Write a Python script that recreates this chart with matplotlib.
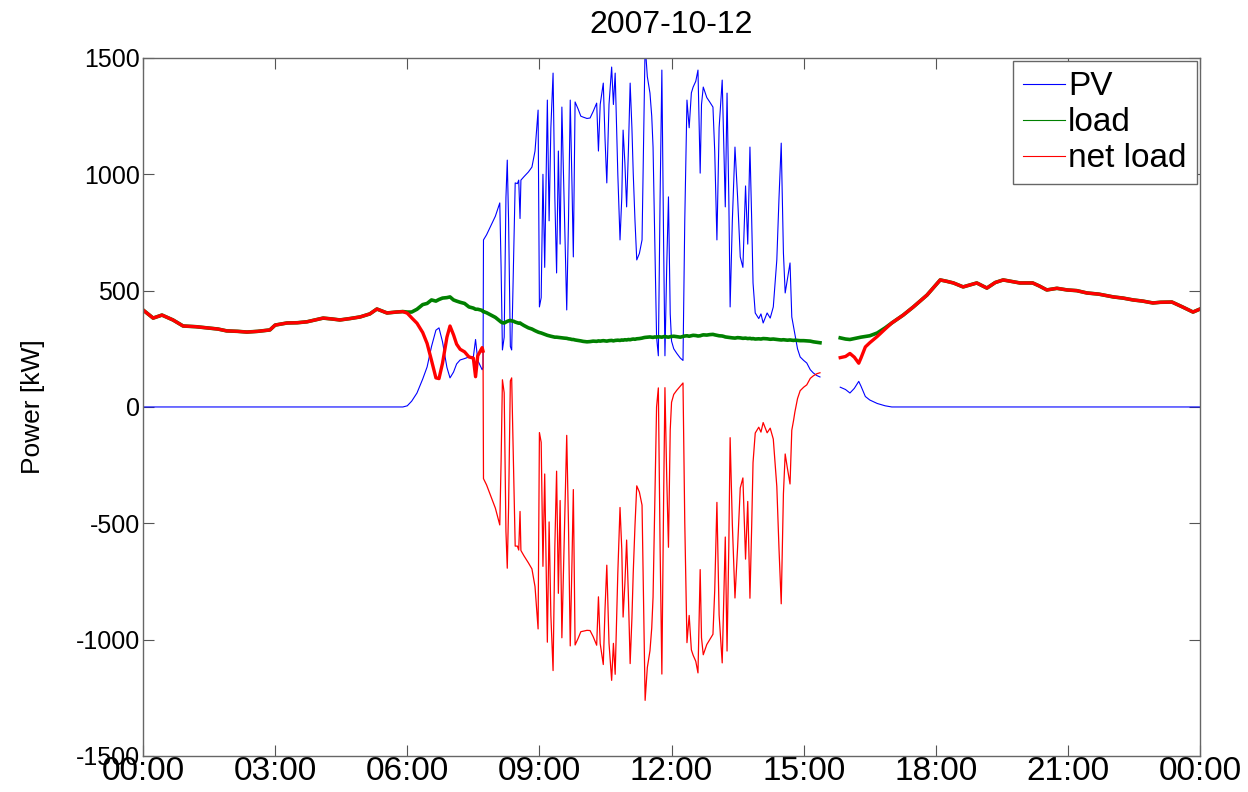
import numpy as np
import matplotlib
matplotlib.use("Agg")
import matplotlib.pyplot as plt

plt.rcParams['font.family'] = ['Liberation Sans', 'DejaVu Sans']
plt.rcParams['axes.unicode_minus'] = False

# night before sunrise (PV = 0, net load = load)
hours_am = [0.00, 0.23, 0.43, 0.68, 0.91, 1.20, 1.45, 1.70, 1.90, 2.15,
            2.36, 2.60, 2.88, 3.00, 3.27, 3.50, 3.72, 4.09, 4.30, 4.47,
            4.70, 4.93, 5.15, 5.31, 5.54, 5.75, 5.90]
load_am = [417, 382, 395, 374, 348, 345, 340, 335, 327, 325,
           322, 325, 331, 352, 361, 362, 366, 382, 378, 374,
           380, 387, 400, 421, 404, 408, 410]

# daylight up to the data gap
hours_day = [6.00, 6.10, 6.22, 6.35, 6.45, 6.55, 6.65, 6.72, 6.80, 6.90,
             6.97, 7.05, 7.12, 7.20, 7.30, 7.40, 7.50, 7.55, 7.60, 7.70,
             7.72, 7.73, 7.80, 7.90, 8.00, 8.10, 8.13, 8.16, 8.20, 8.24,
             8.27, 8.30, 8.34, 8.37, 8.42, 8.45, 8.50, 8.53, 8.56, 8.58,
             8.65, 8.75, 8.83, 8.90, 8.97, 9.00, 9.04, 9.08, 9.12, 9.18,
             9.22, 9.26, 9.31, 9.35, 9.39, 9.43, 9.47, 9.51, 9.56, 9.62,
             9.66, 9.70, 9.74, 9.77, 9.81, 9.88, 9.94, 9.99, 10.08, 10.15,
             10.22, 10.30, 10.34, 10.38, 10.45, 10.49, 10.53, 10.58, 10.64, 10.68,
             10.72, 10.78, 10.83, 10.87, 10.90, 10.94, 10.98, 11.02, 11.06, 11.10,
             11.13, 11.17, 11.21, 11.27, 11.33, 11.37, 11.40, 11.45, 11.51, 11.55,
             11.58, 11.62, 11.66, 11.70, 11.74, 11.78, 11.82, 11.85, 11.89, 11.93,
             11.97, 12.00, 12.05, 12.12, 12.20, 12.26, 12.30, 12.35, 12.40, 12.45,
             12.49, 12.55, 12.60, 12.65, 12.68, 12.72, 12.80, 12.87, 12.94, 12.98,
             13.03, 13.08, 13.15, 13.19, 13.22, 13.26, 13.30, 13.33, 13.38, 13.44,
             13.50, 13.56, 13.62, 13.68, 13.73, 13.78, 13.82, 13.85, 13.90, 13.98,
             14.03, 14.08, 14.17, 14.24, 14.31, 14.39, 14.44, 14.49, 14.54, 14.58,
             14.63, 14.69, 14.73, 14.77, 14.80, 14.86, 14.92, 15.00, 15.07, 15.15,
             15.22, 15.30, 15.37]
pv_day = [5, 25, 60, 120, 172, 260, 330, 340, 280, 170,
          125, 150, 185, 202, 208, 215, 215, 290, 200, 160,
          170, 718, 740, 780, 820, 877, 600, 245, 300, 900,
          1061, 800, 260, 245, 700, 963, 960, 975, 810, 975,
          990, 1010, 1031, 1100, 1276, 430, 470, 1000, 600, 1319,
          800, 1200, 1435, 900, 576, 1100, 700, 1289, 900, 417,
          800, 1319, 950, 645, 1311, 1280, 1250, 1246, 1240, 1242,
          1270, 1306, 1100, 1300, 1392, 1150, 963, 1300, 1461, 1300,
          1435, 1000, 718, 900, 1190, 1050, 860, 1100, 1392, 1200,
          1005, 800, 632, 660, 718, 1200, 1560, 1420, 1349, 1250,
          1117, 700, 300, 220, 900, 1448, 700, 220, 600, 903,
          400, 283, 250, 230, 210, 200, 800, 1319, 1200, 1350,
          1375, 1400, 1448, 1005, 1300, 1375, 1330, 1310, 1289, 1100,
          718, 1200, 1405, 1100, 860, 1349, 900, 430, 800, 1117,
          900, 645, 600, 950, 700, 1117, 800, 533, 404, 380,
          400, 361, 404, 382, 430, 632, 900, 1134, 662, 490,
          550, 619, 387, 344, 309, 250, 215, 200, 189, 160,
          146, 135, 129]
load_day = [408, 408, 420, 440, 445, 460, 455, 462, 468, 470,
            473, 460, 455, 450, 445, 430, 425, 420, 420, 415,
            410, 410, 405, 395, 385, 370, 365, 362, 361, 365,
            368, 370, 372, 370, 368, 365, 362, 360, 361, 358,
            350, 340, 335, 328, 322, 320, 318, 315, 312, 308,
            306, 304, 302, 300, 300, 299, 298, 297, 296, 295,
            293, 292, 290, 290, 288, 286, 284, 282, 280, 281,
            283, 282, 284, 283, 285, 284, 283, 285, 286, 284,
            286, 287, 286, 288, 287, 289, 288, 290, 289, 291,
            292, 291, 293, 294, 296, 298, 299, 300, 301, 300,
            299, 301, 300, 302, 301, 300, 302, 303, 301, 300,
            302, 303, 304, 302, 300, 303, 305, 306, 304, 306,
            308, 307, 305, 306, 308, 310, 309, 311, 312, 310,
            308, 306, 305, 303, 301, 300, 299, 298, 297, 296,
            298, 297, 295, 296, 294, 295, 293, 294, 292, 293,
            292, 294, 293, 291, 292, 290, 289, 288, 289, 288,
            287, 288, 287, 286, 287, 286, 285, 285, 284, 283,
            280, 278, 276]

# after the gap, until sunset
hours_pm = [15.83, 15.95, 16.05, 16.15, 16.25, 16.30, 16.40, 16.50, 16.67, 16.85, 17.00]
pv_pm = [85, 75, 60, 80, 110, 90, 45, 30, 15, 5, 0]
load_pm = [297, 292, 290, 294, 298, 300, 303, 306, 318, 340, 361]

# evening / night (PV = 0)
hours_eve = [17.26, 17.49, 17.80, 18.10, 18.25, 18.40, 18.62, 18.93, 19.16, 19.35,
             19.53, 19.70, 19.91, 20.20, 20.35, 20.52, 20.75, 20.98, 21.20, 21.43,
             21.70, 22.03, 22.25, 22.48, 22.70, 22.93, 23.10, 23.36, 23.60, 23.84, 24.00]
load_eve = [395, 430, 481, 546, 540, 533, 516, 533, 511, 535,
            546, 540, 533, 533, 520, 503, 510, 503, 500, 490,
            485, 473, 468, 460, 455, 447, 450, 451, 430, 408, 421]

hours = np.concatenate([hours_am, hours_day, [15.6], hours_pm, hours_eve])
pv = np.concatenate([np.zeros(len(hours_am)), pv_day, [np.nan], pv_pm,
                     np.zeros(len(hours_eve))])
load = np.concatenate([load_am, load_day, [np.nan], load_pm, load_eve])
net = load - pv

tick_hours = [0, 3, 6, 9, 12, 15, 18, 21, 24]
tick_labels = ['00:00', '03:00', '06:00', '09:00', '12:00', '15:00', '18:00', '21:00', '00:00']

fig = plt.figure(figsize=(12.48, 7.92), dpi=100)
ax = fig.add_axes([0.1146, 0.0455, 0.847, 0.8813])

ax.plot(hours, pv, color='#0000ff', lw=0.8, label='PV')
ax.plot(hours, load, color='#008000', lw=2.6, label='load')
ax.plot(hours, net, color='#ff0000', lw=0.9, label='net load')
# the smooth (noisy) night parts look thick in the original
calm = np.where((hours < 7.725) | (hours > 15.8), net, np.nan)
ax.plot(hours, calm, color='#ff0000', lw=2.4)

ax.set_xlim(0, 24)
ax.set_ylim(-1500, 1500)
ax.set_xticks(tick_hours)
ax.set_xticklabels(tick_labels)
ax.set_yticks([-1500, -1000, -500, 0, 500, 1000, 1500])
ax.tick_params(direction='in', length=8, width=0.8, color='#555555',
               top=True, right=True, pad=2)
ax.tick_params(axis='y', labelsize=18)
ax.tick_params(axis='x', labelsize=24, pad=0)
for s in ax.spines.values():
    s.set_color('#666666')
    s.set_linewidth(1.0)

ax.set_title('2007-10-12', fontsize=23, pad=18)
ax.set_ylabel('Power [kW]', fontsize=19, labelpad=22)

leg = ax.legend(loc='upper right', fontsize=24, fancybox=False, framealpha=1,
                edgecolor='#666666', borderaxespad=0.1, handlelength=1.25,
                handletextpad=0.1, labelspacing=0.15, borderpad=0.3)
for line in leg.get_lines():
    line.set_linewidth(0.8)

fig.savefig('out.png', dpi=100)
